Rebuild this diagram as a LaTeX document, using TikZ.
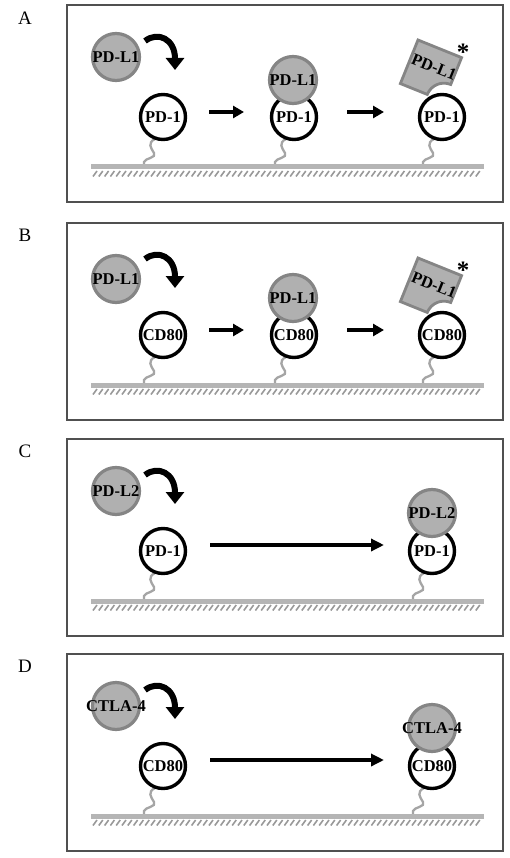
\documentclass[tikz,border=0pt]{standalone}
\usepackage{fontspec}
\setmainfont{Liberation Serif}
\usetikzlibrary{arrows.meta}
\definecolor{ligfill}{HTML}{B0B0B0}
\definecolor{ligdraw}{HTML}{858585}
\definecolor{memb}{HTML}{B5B5B5}
\definecolor{stalkc}{HTML}{A5A5A5}
\definecolor{hatchc}{HTML}{999999}
\definecolor{boxc}{HTML}{505050}
\tikzset{
 panelbox/.style={draw=boxc,line width=1.2pt},
 lig/.style={circle,draw=ligdraw,fill=ligfill,line width=3.2pt,minimum size=47pt,inner sep=0pt},
 rec/.style={circle,draw=black,fill=white,line width=3.4pt,minimum size=45pt,inner sep=0pt},
 mol/.style={font=\fontsize{16.5}{16.5}\selectfont\bfseries,inner sep=0pt},
 plabel/.style={font=\fontsize{19}{19}\selectfont,inner sep=0pt},
 asterisk/.style={font=\fontsize{25}{25}\selectfont\bfseries,inner sep=0pt,anchor=base},
 arr/.style={line width=3.4pt,-{Triangle[length=11pt,width=12pt]}},
 longarr/.style={line width=3.4pt,-{Triangle[length=13pt,width=12pt]}},
 curvarr/.style={line width=6pt,-{Triangle[length=12pt,width=18pt]}},
 stalkst/.style={draw=stalkc,line width=2.3pt},
 membst/.style={draw=memb,line width=5pt},
 hatchst/.style={draw=hatchc,line width=1.6pt},
 cleaved/.style={draw=ligdraw,fill=ligfill,line width=2.8pt,line join=miter},
}
\newcommand\mystalk[2]{\draw[stalkst] (#1-8,#2+22) .. controls (#1-16,#2+26) and (#1-12,#2+31) .. (#1-9,#2+36) .. controls (#1-6,#2+41) and (#1-18,#2+41) .. (#1-19,#2+45) -- (#1-19,#2+49);}
\newcommand\mymembrane{%
 \draw[membst] (91,162) -- (484,162);
 \foreach \h in {0,...,66} \draw[hatchst] (93+5.8*\h,171.5) -- (97+5.8*\h,166);}
\newcommand\mycurved[1]{%
 \coordinate (#1s) at (145,36);
 \coordinate (#1e) at (175,65);
 \draw[curvarr] (#1s) .. controls (158,26) and (175,34) .. (#1e);}
\begin{document}
\begin{tikzpicture}[x=1pt,y=-1pt]
\useasboundingbox (0,0) rectangle (509,858);
\fill[white] (0,0) rectangle (509,858);
% ---------------- Panel A
\begin{scope}[shift={(0,5)}]
 \node[plabel] (labA) at (25,13) {A};
 \draw[panelbox] (67,0) rectangle (503,197);
 \mystalk{163}{112}\mystalk{294}{112}\mystalk{442}{112}
 \mymembrane
 \node[rec] (A1) at (163,112) {};
 \node[mol] (A1t) at (A1) {PD-1};
 \node[lig] (AL) at (116,52) {};
 \node[mol] (ALt) at (AL) {PD-L1};
 \mycurved{Ac}
 \coordinate (Aa1s) at (209,107); \coordinate (Aa1e) at (244,107);
 \draw[arr] (Aa1s) -- (Aa1e);
 \node[rec] (A2) at (294,112) {};
 \node[mol] (A2t) at (A2) {PD-1};
 \node[lig] (AL2) at (293,75) {};
 \node[mol] (AL2t) at (AL2) {PD-L1};
 \coordinate (Aa2s) at (347,107); \coordinate (Aa2e) at (384,107);
 \draw[arr] (Aa2s) -- (Aa2e);
 \node[rec] (A3) at (442,112) {};
 \node[mol] (A3t) at (A3) {PD-1};
 \begin{scope}[shift={(418,35)},rotate=-22]
  \draw[cleaved] (0,0) -- (47,0) -- (47,29) .. controls (37,29) and (29,37) .. (29,47) -- (0,47) -- cycle;
  \node[mol,rotate=-22] (AXt) at (25,19) {PD-L1};
 \end{scope}
 \node[asterisk] (Aast) at (463,56) {*};
\end{scope}
% ---------------- Panel B
\begin{scope}[shift={(0,223)}]
 \node[plabel] (labB) at (25,12) {B};
 \draw[panelbox] (67,0) rectangle (503,197);
 \mystalk{163}{112}\mystalk{294}{112}\mystalk{442}{112}
 \mymembrane
 \node[rec] (B1) at (163,112) {};
 \node[mol] (B1t) at (B1) {CD80};
 \node[lig] (BL) at (116,56) {};
 \node[mol] (BLt) at (BL) {PD-L1};
 \mycurved{Bc}
 \coordinate (Ba1s) at (209,107); \coordinate (Ba1e) at (244,107);
 \draw[arr] (Ba1s) -- (Ba1e);
 \node[rec] (B2) at (294,112) {};
 \node[mol] (B2t) at (B2) {CD80};
 \node[lig] (BL2) at (293,75) {};
 \node[mol] (BL2t) at (BL2) {PD-L1};
 \coordinate (Ba2s) at (347,107); \coordinate (Ba2e) at (384,107);
 \draw[arr] (Ba2s) -- (Ba2e);
 \node[rec] (B3) at (442,112) {};
 \node[mol] (B3t) at (B3) {CD80};
 \begin{scope}[shift={(418,35)},rotate=-22]
  \draw[cleaved] (0,0) -- (47,0) -- (47,29) .. controls (37,29) and (29,37) .. (29,47) -- (0,47) -- cycle;
  \node[mol,rotate=-22] (BXt) at (25,19) {PD-L1};
 \end{scope}
 \node[asterisk] (Bast) at (463,56) {*};
\end{scope}
% ---------------- Panel C
\begin{scope}[shift={(0,439)}]
 \node[plabel] (labC) at (25,12) {C};
 \draw[panelbox] (67,0) rectangle (503,197);
 \mystalk{163}{112}\mystalk{432}{112}
 \mymembrane
 \node[rec] (C1) at (163,112) {};
 \node[mol] (C1t) at (C1) {PD-1};
 \node[lig] (CL) at (116,52) {};
 \node[mol] (CLt) at (CL) {PD-L2};
 \mycurved{Cc}
 \coordinate (Cas) at (210,106); \coordinate (Cae) at (384,106);
 \draw[longarr] (Cas) -- (Cae);
 \node[rec] (C2) at (432,112) {};
 \node[mol] (C2t) at (C2) {PD-1};
 \node[lig] (CL2) at (432,74) {};
 \node[mol] (CL2t) at (CL2) {PD-L2};
\end{scope}
% ---------------- Panel D
\begin{scope}[shift={(0,654)}]
 \node[plabel] (labD) at (25,12) {D};
 \draw[panelbox] (67,0) rectangle (503,197);
 \mystalk{163}{112}\mystalk{432}{112}
 \mymembrane
 \node[rec] (D1) at (163,112) {};
 \node[mol] (D1t) at (D1) {CD80};
 \node[lig] (DL) at (116,52) {};
 \node[mol] (DLt) at (DL) {CTLA-4};
 \mycurved{Dc}
 \coordinate (Das) at (210,106); \coordinate (Dae) at (384,106);
 \draw[longarr] (Das) -- (Dae);
 \node[rec] (D2) at (432,112) {};
 \node[mol] (D2t) at (D2) {CD80};
 \node[lig] (DL2) at (432,74) {};
 \node[mol] (DL2t) at (DL2) {CTLA-4};
\end{scope}
\end{tikzpicture}
\end{document}
